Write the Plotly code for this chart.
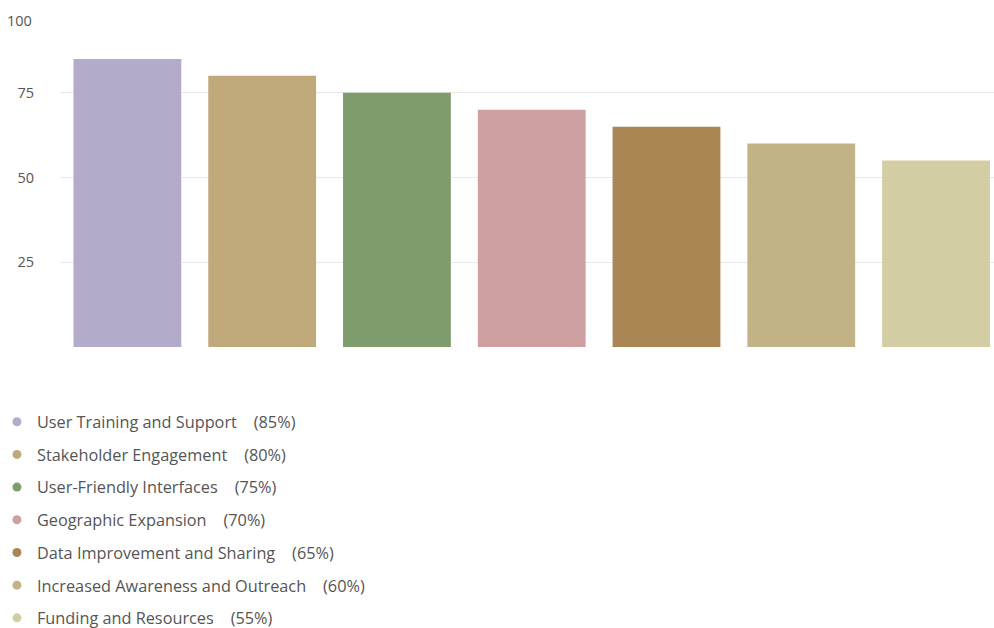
import plotly.graph_objects as go

categories = [
    "User Training and Support",
    "Stakeholder Engagement",
    "User-Friendly Interfaces",
    "Geographic Expansion",
    "Data Improvement and Sharing",
    "Increased Awareness and Outreach",
    "Funding and Resources",
]
values = [85, 80, 75, 70, 65, 60, 55]
colors = ["#b3abc9", "#bfa97a", "#7f9d6c", "#cea0a1", "#a98653", "#c2b387", "#d3cda4"]
tick_vals = [0, 25, 50, 75, 100]
tick_text = ["", "25", "50", "75", ""]
top_label = "100"

FONT = "Open Sans, Noto Sans, sans-serif"

fig = go.Figure()
fig.add_trace(go.Bar(
    x=categories, y=values,
    marker=dict(color=colors, line=dict(width=0)),
    showlegend=False, hoverinfo="x+y",
))
for i, (c, v, col) in enumerate(zip(categories, values, colors)):
    fig.add_trace(go.Scatter(
        x=[None], y=[None], mode="markers",
        marker=dict(color=col, size=9, symbol="circle"),
        name=f"{c}\u00a0\u00a0\u00a0\u00a0({v}%)",
        legendgroup=f"g{i}", showlegend=True,
    ))

fig.add_annotation(
    text=top_label, xref="paper", yref="y", x=0, y=tick_vals[-1],
    xanchor="right", yanchor="middle", xshift=-26, yshift=-12,
    showarrow=False, font=dict(family=FONT, size=14.5, color="#555555"),
)

fig.update_layout(
    width=994, height=628,
    margin=dict(l=60, r=0, t=8, b=281, autoexpand=False),
    paper_bgcolor="white", plot_bgcolor="white",
    bargap=0.2,
    font=dict(family=FONT, color="#555555"),
    xaxis=dict(showticklabels=False, showgrid=False, zeroline=False,
               showline=False, range=[-0.5, 6.43], ticks=""),
    yaxis=dict(range=[0, 100.01], tickvals=tick_vals, ticktext=tick_text,
               showgrid=True, gridcolor="#e9e9e9", gridwidth=1,
               zeroline=False, showline=False,
               ticks="outside", ticklen=22, tickcolor="rgba(0,0,0,0)",
               tickfont=dict(size=14.5, color="#555555")),
    legend=dict(orientation="v", x=-0.0675, xanchor="left", y=-0.17, yanchor="top",
                font=dict(size=16.3, color="#555555"),
                tracegroupgap=8.5, traceorder="grouped",
                bgcolor="rgba(0,0,0,0)"),
)

fig.write_html(
    "out.html",
    config={"displayModeBar": False},
    post_script="document.body.style.margin='0';document.body.style.overflow='hidden';",
)
